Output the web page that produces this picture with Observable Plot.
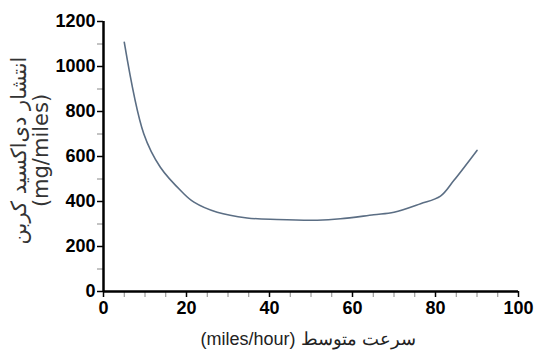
<!DOCTYPE html>
<html>
<head>
<meta charset="utf-8">
<script src="https://cdn.jsdelivr.net/npm/d3@7"></script>
<script src="https://cdn.jsdelivr.net/npm/@observablehq/plot@0.6"></script>
<style>
  html, body { margin: 0; padding: 0; background: #fff; }
  #chart { width: 535px; height: 356px; }
</style>
</head>
<body>
<div id="chart"></div>
<script>
// Speed (miles/hour)
const speed = [5, 9.7, 13.7, 19, 21.8, 27.4, 34.6, 41.8, 51.5, 57.1, 65.1, 70, 76.4, 81.2, 84.4, 90];
// CO2 emission (mg/miles)
const emission = [1108, 701, 552, 441, 397, 352, 327, 320, 317, 323, 341, 352, 390, 424, 493, 627];
const xMajorTicks = [0, 20, 40, 60, 80, 100];
const xMinorTicks = d3.range(0, 101, 5);
const yMajorTicks = [0, 200, 400, 600, 800, 1000, 1200];
const yMinorTicks = d3.range(0, 1201, 100);
const yTitle = "انتشار دی‌اکسید کربن\n(mg/miles)";
const xTitle = "(miles/hour) سرعت متوسط";

const data = speed.map((s, i) => ({speed: s, emission: emission[i]}));
const tickFont = {fontSize: 18, fontWeight: "bold", fontFamily: "Liberation Sans, Arial, sans-serif", tickFormat: "d"};

const chart = Plot.plot({
  width: 535,
  height: 356,
  marginLeft: 103,
  marginRight: 17,
  marginTop: 21,
  marginBottom: 65,
  style: {background: "#fff", color: "#000", fontFamily: "Liberation Sans, Arial, sans-serif"},
  x: {domain: [0, 100]},
  y: {domain: [0, 1200]},
  marks: [
    Plot.axisX({ticks: xMinorTicks, tickSize: 6, text: null, label: null, stroke: "#888", strokeWidth: 1}),
    Plot.axisY({ticks: yMinorTicks, tickSize: 6, text: null, label: null, stroke: "#888", strokeWidth: 1}),
    Plot.axisX({ticks: xMajorTicks, tickSize: 6, tickPadding: 4, label: null, strokeWidth: 1.5, ...tickFont}),
    Plot.axisY({ticks: yMajorTicks, tickSize: 6, tickPadding: 2, label: null, strokeWidth: 1.5, ...tickFont}),
    Plot.ruleY([0], {stroke: "#000", strokeWidth: 2.5}),
    Plot.ruleX([0], {stroke: "#000", strokeWidth: 2.5}),
    Plot.line(data, {x: "speed", y: "emission", stroke: "#5b6e84", strokeWidth: 1.6, curve: "catmull-rom"}),
    Plot.text([yTitle], {frameAnchor: "left", textAnchor: "middle", rotate: -90, dx: -74, dy: -6, text: d => d,
      fontSize: 21, lineHeight: 1.05, fill: "#333", fontFamily: "DejaVu Sans, sans-serif"}),
    Plot.text([xTitle], {frameAnchor: "bottom", textAnchor: "middle", dy: 53, dx: -3, text: d => d,
      fontSize: 18, fill: "#222"})
  ]
});
document.getElementById("chart").append(chart);
</script>
</body>
</html>
